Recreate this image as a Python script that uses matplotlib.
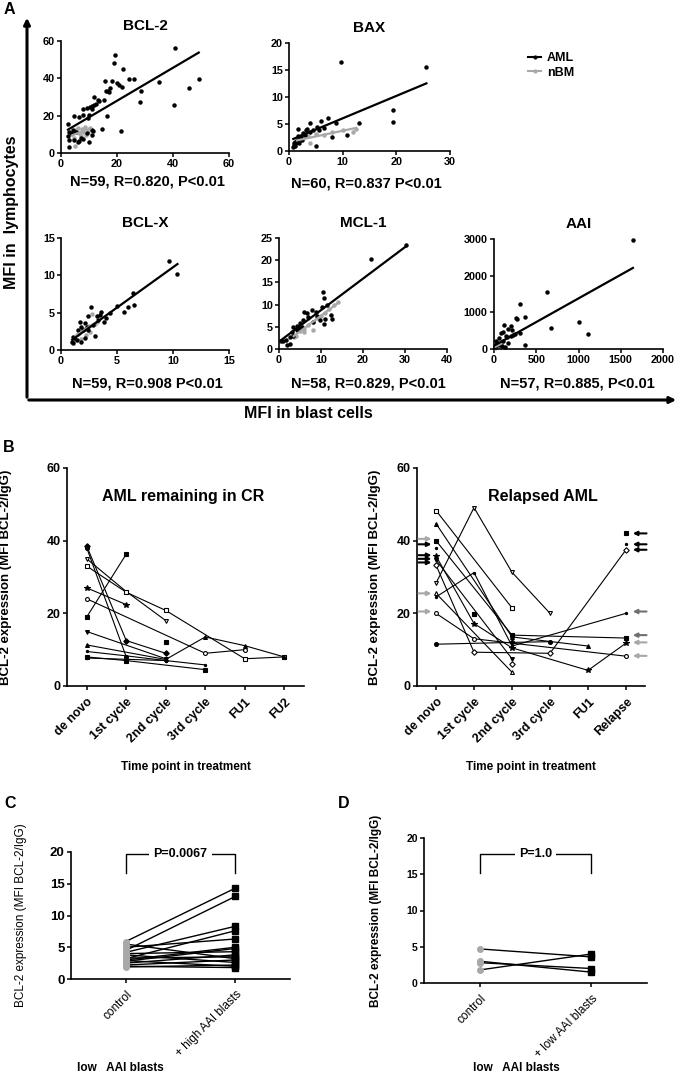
import numpy as np
import matplotlib
matplotlib.use('Agg')
import matplotlib.pyplot as plt
from matplotlib.lines import Line2D
from matplotlib.patches import FancyArrowPatch

plt.rcParams['font.family'] = ['Liberation Sans', 'DejaVu Sans']
plt.rcParams['font.weight'] = 'bold'
plt.rcParams['axes.labelweight'] = 'bold'
plt.rcParams['axes.titleweight'] = 'bold'

nan = np.nan
W, H = 680, 1078
GRAY = '#a8a8a8'

# ---------------- Panel A: blasts vs lymphocytes ----------------
bcl2_aml_x = [40.6, 49.2, 45.6, 40.5, 34.9, 28.2, 28.7, 26.0, 24.3, 22.3, 21.8, 20.6, 20.1, 21.4, 19.2,
              19.0, 18.1, 17.5, 17.3, 15.8, 15.9, 16.3, 15.4, 14.6, 13.7, 11.8, 11.9, 11.1, 11.0, 10.4,
              9.2, 10.1, 7.7, 6.4, 4.8, 2.6, 3.0, 2.5, 2.7, 3.0, 4.2, 5.1, 6.0, 7.1, 7.7,
              10.0, 11.0, 11.5, 11.0, 9.2, 4.8, 5.2, 12.5, 13.2, 8.0, 6.5, 3.5, 9.8, 16.8]
bcl2_aml_y = [56.4, 39.8, 35.0, 25.5, 37.9, 27.3, 33.4, 39.6, 39.5, 44.8, 35.5, 36.4, 37.3, 11.8, 52.7,
              48.0, 38.6, 34.8, 32.7, 38.8, 33.0, 20.0, 28.4, 12.7, 27.9, 30.2, 25.9, 25.2, 23.4, 24.5,
              23.9, 20.2, 23.4, 19.1, 19.8, 15.4, 11.4, 9.1, 7.0, 3.0, 12.3, 11.4, 5.9, 7.9, 7.5,
              5.7, 12.3, 11.8, 9.6, 10.9, 7.0, 11.3, 26.5, 28.5, 20.5, 6.5, 10.5, 19.0, 33.0]
bcl2_nbm_x = [4.5, 5.5, 6.5, 7.5, 8.5, 9.5, 10.5, 5.0, 7.0, 9.0, 6.0, 8.0, 4.0]
bcl2_nbm_y = [8.0, 12.5, 10.5, 13.0, 14.0, 11.5, 13.5, 4.0, 9.0, 9.5, 13.5, 11.0, 10.0]
bcl2_fit_aml = [0.884, 10.3]
bcl2_fit_nbm = [0.57, 7.2]

bax_aml_x = [25.6, 9.6, 19.4, 19.3, 13.0, 10.9, 8.8, 8.0, 7.3, 5.9, 5.0, 3.9, 5.2, 5.5, 4.4, 3.4, 3.1,
             2.7, 1.7, 1.6, 2.0, 1.3, 0.9, 0.8, 1.1, 1.4, 2.4, 3.0, 4.0, 6.5, 1.2, 1.8, 2.2, 0.9]
bax_aml_y = [15.6, 16.4, 7.6, 5.4, 5.1, 2.9, 5.2, 2.5, 6.2, 5.6, 0.9, 5.1, 4.5, 3.9, 3.9, 4.0, 3.8,
             3.3, 4.0, 2.8, 2.3, 1.4, 1.1, 0.7, 1.7, 2.0, 2.0, 3.0, 3.5, 4.2, 1.0, 1.5, 2.8, 1.4]
bax_nbm_x = [1.5, 2.0, 2.5, 3.0, 3.5, 4.0, 5.0, 6.5, 8.0, 10.0, 12.0, 12.5]
bax_nbm_y = [1.8, 2.0, 2.5, 3.0, 2.8, 1.5, 3.2, 3.0, 3.5, 3.8, 3.6, 4.0]
bax_fit_aml = [0.415, 1.9]
bax_fit_nbm = [0.21, 1.65]

bclx_aml_x = [9.65, 10.4, 6.4, 6.5, 6.0, 5.6, 5.0, 4.4, 3.6, 3.5, 3.8, 3.2, 2.7, 2.4, 2.1, 1.7,
              1.5, 2.0, 2.4, 3.0, 1.2, 1.0, 1.1, 1.4, 1.8, 2.1, 1.1, 2.3, 1.8, 4.0, 3.3, 2.9]
bclx_aml_y = [11.9, 10.2, 7.6, 6.0, 5.8, 5.1, 5.9, 5.0, 5.1, 4.7, 3.8, 4.5, 5.8, 4.5, 3.6, 3.8,
              2.7, 2.7, 2.7, 1.9, 1.6, 1.1, 0.9, 1.3, 1.1, 1.6, 1.8, 3.1, 3.1, 4.3, 4.0, 3.3]
bclx_nbm_x = [1.5, 2.0, 2.5, 2.8, 3.0, 2.2, 1.8, 3.2, 2.6, 1.3]
bclx_nbm_y = [2.2, 2.8, 3.2, 4.8, 3.5, 2.0, 1.5, 3.8, 2.4, 1.4]
bclx_fit_aml = [1.08, 0.28]
bclx_fit_nbm = [1.0, 0.6]

mcl1_aml_x = [30.2, 21.8, 10.4, 10.7, 11.5, 10.2, 12.3, 12.5, 11.0, 10.6, 9.8, 8.8, 7.8, 6.6, 6.0,
              7.0, 5.8, 5.0, 4.2, 3.4, 4.2, 3.0, 3.4, 2.6, 1.7, 1.8, 2.5, 0.4, 0.9, 4.8, 5.4, 9.0, 8.0]
mcl1_aml_y = [23.4, 20.3, 12.8, 11.4, 9.9, 9.5, 7.7, 6.7, 6.7, 5.6, 6.5, 8.4, 8.8, 8.2, 8.4,
              7.1, 6.5, 5.8, 5.2, 5.0, 4.3, 3.9, 2.9, 2.8, 2.0, 0.9, 1.1, 1.7, 1.7, 4.7, 5.0, 7.5, 6.0]
mcl1_nbm_x = [4, 5, 6, 7, 8, 9, 10, 11, 12, 13, 14, 8, 6, 7, 3.5]
mcl1_nbm_y = [3.0, 4.0, 4.5, 5.5, 6.0, 7.0, 7.5, 8.0, 9.0, 10.0, 10.5, 4.2, 3.8, 7.0, 2.8]
mcl1_fit_aml = [0.71, 1.65]
mcl1_fit_nbm = [0.71, 0.4]

aai_aml_x = [1644, 624, 1000, 1111, 680, 308, 368, 261, 269, 368, 308, 198, 119, 170, 209, 138,
             83, 63, 111, 170, 32, 40, 91, 126, 16, 150, 198, 24, 111, 71, 230, 250]
aai_aml_y = [2982, 1563, 732, 407, 578, 1229, 877, 858, 822, 108, 434, 633, 660, 542, 524, 343,
             434, 298, 208, 163, 163, 117, 72, 45, 72, 316, 343, 208, 452, 117, 380, 420]
aai_nbm_x = [10, 20, 35, 50, 60, 80]
aai_nbm_y = [30, 60, 50, 90, 110, 130]
aai_fit_aml = [1.29, 90]
aai_fit_nbm = [1.2, 40]

# ---------------- Panel B: course during treatment ----------------
cr_labels = ['de novo', '1st cycle', '2nd cycle', '3rd cycle', 'FU1', 'FU2']
cr_values = [
    [38.5, 12.5, 9.0, nan, nan, nan],
    [38.0, 8.0, nan, nan, nan, nan],
    [35.0, 26.0, 18.0, nan, nan, nan],
    [33.0, 25.8, 20.8, nan, 7.5, 8.0],
    [27.0, 22.4, nan, nan, nan, nan],
    [24.0, nan, nan, 9.0, 10.0, nan],
    [19.0, 36.3, nan, nan, nan, nan],
    [15.0, nan, 7.5, nan, nan, nan],
    [11.3, nan, 7.3, 13.5, 11.1, 8.0],
    [9.5, 8.3, 7.0, 5.8, nan, nan],
    [8.0, 7.0, nan, 4.5, nan, nan],
    [7.7, nan, 7.0, nan, nan, nan],
    [nan, nan, 12.0, nan, nan, nan],
]
cr_markers = ['D', 'o', 'v', 's', '*', 'o', 's', 'v', '^', '.', 's', '.', 's']
cr_open = [False, False, True, True, False, True, False, False, False, False, False, False, False]

rel_labels = ['de novo', '1st cycle', '2nd cycle', '3rd cycle', 'FU1', 'Relapse']
rel_values = [
    [48.3, nan, 21.5, nan, nan, nan],
    [44.7, nan, 13.5, nan, 11.0, nan],
    [40.0, nan, 14.0, nan, nan, 13.2],
    [37.9, nan, nan, nan, nan, nan],
    [35.8, 17.2, 10.5, nan, 4.3, 11.8],
    [34.7, nan, 7.5, nan, nan, nan],
    [33.3, 9.3, nan, 9.0, nan, 37.5],
    [28.3, 49.1, 31.3, 20.0, nan, nan],
    [25.5, nan, 3.8, nan, nan, nan],
    [24.5, 31.2, 11.0, nan, nan, 20.0],
    [20.0, 13.0, nan, nan, nan, 8.2],
    [11.5, nan, 12.0, 12.2, nan, nan],
    [nan, 19.7, nan, nan, nan, nan],
    [nan, nan, 6.0, nan, nan, nan],
    [nan, nan, nan, nan, nan, 42.0],
    [nan, nan, nan, nan, nan, 39.0],
]
rel_markers = ['s', '^', 's', '.', '*', 'v', 'D', 'v', '^', '.', 'o', 'o', 's', 'D', 's', '.']
rel_open = [True, False, False, False, False, False, True, True, True, False, True, False,
            False, True, False, False]

rel_arrows_left = [40.5, 39.0, 36.0, 35.0, 34.0, 25.5, 20.5]
rel_arrows_left_col = [GRAY, 'k', 'k', 'k', 'k', GRAY, GRAY]
rel_arrows_right = [42.0, 39.0, 37.5, 20.5, 14.0, 12.0, 8.3]
rel_arrows_right_col = ['k', 'k', 'k', '#707070', '#707070', GRAY, GRAY]

# ---------------- Panels C / D: co-culture ----------------
c_control = [5.9, 4.5, 4.2, 3.2, 5.0, 3.0, 2.8, 4.0, 2.5, 3.3, 2.2, 3.8, 1.9, 2.0, 5.5, 2.9]
c_high = [14.3, 13.0, 8.3, 7.6, 6.3, 5.0, 4.8, 4.3, 3.8, 3.5, 3.0, 2.6, 2.2, 1.8, 3.2, 2.0]
d_control = [4.7, 3.0, 2.8, 1.8]
d_low = [3.6, 1.5, 2.0, 4.0]


fig = plt.figure(figsize=(6.8, 10.78), dpi=100)


def fx(x):
    return x / W


def fy(y):
    return 1 - y / H


def px_axes(l, t, r, b):
    return fig.add_axes([l / W, 1 - b / H, (r - l) / W, (b - t) / H])


def style(ax, fs):
    for s in ['top', 'right']:
        ax.spines[s].set_visible(False)
    for s in ['left', 'bottom']:
        ax.spines[s].set_linewidth(1.2)
    ax.tick_params(labelsize=fs, length=3, width=1.1, pad=1.5)


def scatter_panel(box, title, ax_x, ax_y, nb_x, nb_y, fit_a, fit_n, xlim, ylim, xt, yt, note, note_pos):
    ax = px_axes(*box)
    ax.plot(nb_x, nb_y, 'o', color=GRAY, ms=2.2, clip_on=False)
    ax.plot(ax_x, ax_y, 'o', color='k', ms=2.2, clip_on=False)
    xx = np.array([min(nb_x), max(nb_x)])
    ax.plot(xx, fit_n[0] * xx + fit_n[1], color=GRAY, lw=1.6)
    xx = np.array([min(ax_x), max(ax_x)])
    ax.plot(xx, fit_a[0] * xx + fit_a[1], color='k', lw=1.6)
    ax.set_xlim(*xlim)
    ax.set_ylim(*ylim)
    ax.set_xticks(xt)
    ax.set_yticks(yt)
    style(ax, 7.8)
    ax.set_title(title, fontsize=11, pad=8)
    fig.text(fx(note_pos[0]), fy(note_pos[1]), note, fontsize=10.5, ha='center', va='center')
    return ax


scatter_panel((61, 41, 229, 153), 'BCL-2', bcl2_aml_x, bcl2_aml_y, bcl2_nbm_x, bcl2_nbm_y,
              bcl2_fit_aml, bcl2_fit_nbm, (0, 60), (0, 60), [0, 20, 40, 60], [0, 20, 40, 60],
              'N=59, R=0.820, P<0.01', (147, 182))
scatter_panel((289, 43, 450, 151), 'BAX', bax_aml_x, bax_aml_y, bax_nbm_x, bax_nbm_y,
              bax_fit_aml, bax_fit_nbm, (0, 30), (0, 20), [0, 10, 20, 30], [0, 5, 10, 15, 20],
              'N=60, R=0.837 P<0.01', (366, 184))
scatter_panel((61, 238, 229, 350), 'BCL-X', bclx_aml_x, bclx_aml_y, bclx_nbm_x, bclx_nbm_y,
              bclx_fit_aml, bclx_fit_nbm, (0, 15), (0, 15), [0, 5, 10, 15], [0, 5, 10, 15],
              'N=59, R=0.908 P<0.01', (147, 384))
scatter_panel((279, 238, 447, 349), 'MCL-1', mcl1_aml_x, mcl1_aml_y, mcl1_nbm_x, mcl1_nbm_y,
              mcl1_fit_aml, mcl1_fit_nbm, (0, 40), (0, 25), [0, 10, 20, 30, 40], [0, 5, 10, 15, 20, 25],
              'N=58, R=0.829, P<0.01', (368, 384))
scatter_panel((494, 239, 663, 349), 'AAI', aai_aml_x, aai_aml_y, aai_nbm_x, aai_nbm_y,
              aai_fit_aml, aai_fit_nbm, (0, 2000), (0, 3000), [0, 500, 1000, 1500, 2000],
              [0, 1000, 2000, 3000], 'N=57, R=0.885, P<0.01', (577, 384))

handles = [Line2D([], [], color='k', marker='o', ms=2, lw=1.5),
           Line2D([], [], color=GRAY, marker='o', ms=2, lw=1.5)]
fig.legend(handles, ['AML', 'nBM'], loc='upper left', bbox_to_anchor=(fx(517), fy(41)),
           frameon=False, fontsize=9, handlelength=1.0, handletextpad=0.5, labelspacing=0.2)

# big arrow axes of panel A
fig.add_artist(FancyArrowPatch((fx(27), fy(400)), (fx(27), fy(15)), transform=fig.transFigure,
                               arrowstyle='-|>', mutation_scale=9, lw=2.2, color='k'))
fig.add_artist(FancyArrowPatch((fx(26), fy(400)), (fx(679), fy(400)), transform=fig.transFigure,
                               arrowstyle='-|>', mutation_scale=9, lw=2.2, color='k'))
fig.text(fx(12), fy(212), 'MFI in  lymphocytes', rotation=90, fontsize=11.5, ha='center', va='center')
fig.text(fx(308), fy(413), 'MFI in blast cells', fontsize=11.5, ha='center', va='center')


def course_panel(box, labels, values, markers, opens, title, title_x):
    ax = px_axes(*box)
    pos = np.arange(len(labels))
    for vals, m, op in zip(values, markers, opens):
        v = np.array(vals)
        ok = ~np.isnan(v)
        ms = 4 if m == '*' else (3.2 if m == '.' else 2.8)
        ax.plot(pos[ok], v[ok], '-', marker=m, color='k', lw=0.8, ms=ms,
                mfc='white' if op else 'k', mec='k', mew=0.8, clip_on=False)
    ax.set_xlim(-0.5, 5.5)
    ax.set_ylim(0, 60)
    ax.set_yticks([0, 20, 40, 60])
    ax.set_xticks(pos)
    ax.set_xticklabels(labels, rotation=45, ha='right', rotation_mode='anchor')
    style(ax, 9)
    ax.tick_params(axis='x', pad=4)
    ax.set_ylabel('BCL-2 expression (MFI BCL-2/IgG)', fontsize=9.5)
    ax.set_xlabel('Time point in treatment', fontsize=8.5)
    ax.xaxis.set_label_coords(0.5, -0.345)
    ax.text(title_x, 0.87, title, transform=ax.transAxes, fontsize=11.5, ha='center', va='center')
    return ax


ax_cr = course_panel((67, 468, 304, 686), cr_labels, cr_values, cr_markers, cr_open,
                     'AML remaining in CR', 0.49)
ax_cr.yaxis.set_label_coords(-0.23, 0.5)
ax_rel = course_panel((417, 468, 645, 686), rel_labels, rel_values, rel_markers, rel_open,
                      'Relapsed AML', 0.55)
ax_rel.yaxis.set_label_coords(-0.16, 0.5)
for y, c in zip(rel_arrows_left, rel_arrows_left_col):
    ax_rel.annotate('', xy=(-0.12, y), xytext=(-0.46, y), annotation_clip=False,
                    arrowprops=dict(arrowstyle='-|>', color=c, lw=1.5, mutation_scale=6,
                                    shrinkA=0, shrinkB=0))
for y, c in zip(rel_arrows_right, rel_arrows_right_col):
    ax_rel.annotate('', xy=(5.18, y), xytext=(5.54, y), annotation_clip=False,
                    arrowprops=dict(arrowstyle='-|>', color=c, lw=1.5, mutation_scale=6,
                                    shrinkA=0, shrinkB=0))


def pair_panel(box, ctrl, treat, tlabel, ptext, br, fs_tick, ylab_weight, ylab_x):
    ax = px_axes(*box)
    for a, b in zip(ctrl, treat):
        ax.plot([0, 1], [a, b], color='k', lw=1.0)
    ax.plot(np.zeros(len(ctrl)), ctrl, 'o', color=GRAY, ms=4, zorder=3, clip_on=False)
    ax.plot(np.ones(len(treat)), treat, 's', color='k', ms=4.5, zorder=3, clip_on=False)
    ax.plot([0, 0, 1, 1], [br[0], br[1], br[1], br[0]], color='k', lw=1.0)
    ax.text(0.5, br[1], ptext, ha='center', va='center', fontsize=9,
            bbox=dict(facecolor='white', edgecolor='none', pad=3))
    ax.set_xlim(-0.5, 1.5)
    ax.set_ylim(0, 20)
    ax.set_yticks([0, 5, 10, 15, 20])
    ax.set_xticks([0, 1])
    ax.set_xticklabels(['control', tlabel], rotation=45, ha='right', rotation_mode='anchor',
                       fontweight='normal')
    style(ax, fs_tick)
    ax.tick_params(axis='x', labelsize=8.5, pad=4)
    ax.set_ylabel('BCL-2 expression (MFI BCL-2/IgG)', fontsize=8.5, fontweight=ylab_weight)
    ax.yaxis.set_label_coords(ylab_x, 0.5)
    return ax


pair_panel((71, 852, 290, 979), c_control, c_high, '+ high AAI blasts', 'P=0.0067',
           (16.7, 19.7), 9.5, 'normal', -0.20)
pair_panel((424, 838, 647, 983), d_control, d_low, '+ low AAI blasts', 'P=1.0',
           (15.2, 17.8), 7.5, 'bold', -0.19)

fig.text(fx(77), fy(1068), 'low   AAI blasts', fontsize=8.5, va='center')
fig.text(fx(473), fy(1068), 'low   AAI blasts', fontsize=8.5, va='center')

for lab, x, y in [('A', 9, 9), ('B', 9, 448), ('C', 10, 803), ('D', 344, 803)]:
    fig.text(fx(x), fy(y), lab, fontsize=11.5, ha='center', va='center')

fig.savefig('out.png', dpi=100)
